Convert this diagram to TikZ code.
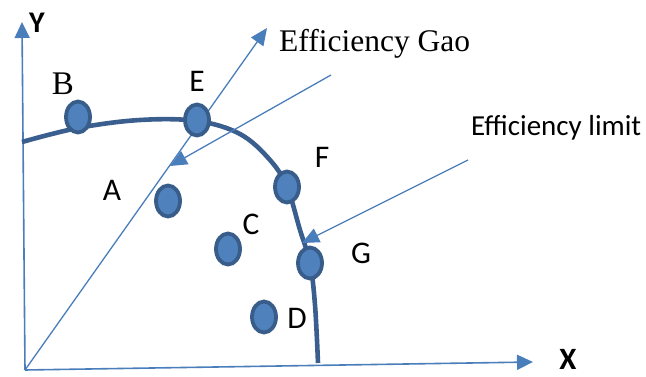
\documentclass[tikz,border=0pt]{standalone}
\usepackage{fontspec}
\setmainfont{Liberation Serif}
\newfontfamily\calib{Carlito}
\usetikzlibrary{arrows.meta,shapes.geometric}
\definecolor{lineblue}{HTML}{4A7EBB}
\definecolor{ptfill}{HTML}{4F81BD}
\definecolor{ptdraw}{HTML}{385D8A}
\definecolor{curveblue}{HTML}{3A5F8F}
\tikzset{
  axisline/.style={draw=lineblue, line width=1.6pt, -{Triangle[length=16pt,width=15pt]}},
  rayline/.style={draw=lineblue, line width=1.3pt, -{Triangle[length=17pt,width=15pt]}},
  frontier/.style={draw=curveblue, line width=4.6pt},
  pt/.style={ellipse, draw=ptdraw, fill=ptfill, line width=3.8pt, minimum width=24pt, minimum height=31pt, inner sep=0pt},
  lbl/.style={font=\calib\fontsize{31.5}{31.5}\selectfont, anchor=base, inner sep=0pt},
  serlbl/.style={font=\fontsize{33}{33}\selectfont, anchor=base, inner sep=0pt},
}
\begin{document}
\begin{tikzpicture}[x=1pt,y=-1pt]
\useasboundingbox (0,0) rectangle (646,377);
% axes
\coordinate (O) at (25,370);
\coordinate (Ytip) at (22,22);
\coordinate (Xtip) at (533,362);
\draw[axisline] (O) -- (Ytip);
\draw[axisline] (O) -- (Xtip);
\node[font=\calib\bfseries\fontsize{30}{30}\selectfont, anchor=base, inner sep=0pt] (Ylab) at (37,33) {Y};
\node[font=\calib\bfseries\fontsize{31}{31}\selectfont, anchor=base, inner sep=0pt] (Xlab) at (568,369) {X};
% Gao ray
\coordinate (Gtip) at (267,28);
\draw[rayline] (O) -- (Gtip);
\node[font=\fontsize{31.5}{31.5}\selectfont, anchor=base west, inner sep=0pt] (gao) at (279,52) {Efficiency Gao};
% frontier
\draw[frontier] plot[smooth, tension=0.6] coordinates {(22,142) (78,128) (140,120) (197,121) (240,134) (270,160) (287,187) (300,230) (310,263) (315,305) (318,363)};
% efficiency limit arrows
\node[font=\calib\fontsize{29}{29}\selectfont, anchor=base west, inner sep=0pt] (lim) at (471,136) {Efficiency limit};
\coordinate (L1s) at (331,75);
\coordinate (L1t) at (170,166);
\coordinate (L2s) at (468,160);
\coordinate (L2t) at (302,243);
\draw[rayline] (L1s) -- (L1t);
\draw[rayline] (L2s) -- (L2t);
% points
\node[pt] (B) at (78,117) {};
\node[pt] (E) at (197,120) {};
\node[pt] (F) at (287,187) {};
\node[pt] (A) at (168,201) {};
\node[pt] (C) at (228,249) {};
\node[pt] (G) at (310,263) {};
\node[pt] (D) at (264,317) {};
% labels
\node[serlbl] (Bl) at (63,95) {B};
\node[lbl] (El) at (197,92) {E};
\node[lbl] (Fl) at (322,168) {F};
\node[lbl] (Al) at (112,201) {A};
\node[lbl] (Cl) at (251,235) {C};
\node[lbl] (Dl) at (297,328) {D};
\node[lbl] (Gl) at (361,263) {G};
\end{tikzpicture}
\end{document}
